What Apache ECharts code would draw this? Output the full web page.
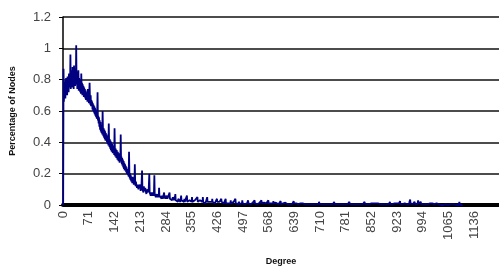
<!DOCTYPE html>
<html>
<head>
<meta charset="utf-8">
<script src="https://cdn.jsdelivr.net/npm/echarts@6/dist/echarts.min.js"></script>
<style>
  html, body { margin: 0; padding: 0; background: #fff; }
  #chart { width: 499px; height: 271px; }
</style>
</head>
<body>
<div id="chart"></div>
<script>
// degree axis: one category per degree, labelled every 71
var degreeCount = 1205;
var degrees = [];
for (var d = 0; d < degreeCount; d++) degrees.push(String(d));
var labelStep = 71;

// y axis ticks
var yMin = 0, yMax = 1.2, yStep = 0.2;

// percentage of nodes per degree
var pctNodes = [
  0,0.87,0.66,0.74,0.70,0.79,0.68,0.76,0.81,0.71,0.78,0.70,0.82,0.73,0.77,0.72,0.84,0.75,0.80,0.76,
  0.96,0.74,0.86,0.78,0.83,0.75,0.88,0.79,0.85,0.74,0.89,0.78,0.84,0.76,0.87,0.80,1.02,0.77,0.85,0.74,
  0.83,0.76,0.86,0.73,0.81,0.75,0.79,0.72,0.80,0.71,0.84,0.74,0.78,0.70,0.77,0.72,0.76,0.69,0.75,0.71,
  0.74,0.68,0.73,0.67,0.72,0.69,0.71,0.66,0.74,0.67,0.70,0.65,0.72,0.78,0.68,0.64,0.70,0.63,0.67,0.64,
  0.66,0.61,0.65,0.60,0.64,0.59,0.63,0.58,0.62,0.57,0.61,0.56,0.60,0.55,0.59,0.72,0.54,0.57,0.52,0.56,
  0.50,0.54,0.48,0.53,0.47,0.51,0.46,0.50,0.45,0.60,0.47,0.44,0.49,0.43,0.48,0.42,0.47,0.41,0.46,0.42,
  0.45,0.40,0.44,0.39,0.43,0.38,0.52,0.40,0.37,0.42,0.36,0.41,0.35,0.40,0.34,0.39,0.36,0.33,0.38,0.35,
  0.37,0.32,0.49,0.34,0.31,0.36,0.33,0.30,0.35,0.32,0.29,0.34,0.31,0.28,0.33,0.30,0.27,0.32,0.29,0.45,
  0.28,0.31,0.26,0.30,0.25,0.29,0.24,0.28,0.23,0.27,0.22,0.26,0.23,0.25,0.21,0.24,0.20,0.23,0.22,0.19,
  0.22,0.18,0.34,0.21,0.17,0.20,0.16,0.19,0.15,0.18,0.17,0.14,0.18,0.15,0.17,0.13,0.16,0.14,0.26,0.15,
  0.12,0.15,0.13,0.14,0.11,0.13,0.12,0.14,0.10,0.13,0.11,0.12,0.10,0.13,0.09,0.12,0.10,0.11,0.22,0.10,
  0.09,0.11,0.08,0.12,0.09,0.10,0.08,0.11,0.09,0.10,0.07,0.10,0.08,0.09,0.07,0.10,0.08,0.09,0.20,0.08,
  0.07,0.09,0.06,0.08,0.07,0.09,0.06,0.08,0.07,0.08,0.06,0.09,0.19,0.07,0.06,0.08,0.05,0.07,0.06,0.08,
  0.05,0.07,0.06,0.07,0.05,0.11,0.06,0.07,0.05,0.06,0.05,0.07,0.04,0.06,0.05,0.06,0.04,0.06,0.05,0.08,
  0.04,0.06,0.05,0.06,0.04,0.05,0.04,0.06,0.04,0.05,0.03,0.05,0.04,0.05,0.08,0.04,0.05,0.03,0.05,0.04,
  0.05,0.03,0.04,0.05,0.03,0.04,0.03,0.05,0.03,0.04,0.07,0.03,0.04,0.03,0.04,0.03,0.04,0.02,0.04,0.03,
  0.04,0.03,0.03,0.04,0.02,0.03,0.06,0.03,0.02,0.04,0.03,0.02,0.03,0.03,0.02,0.04,0.02,0.03,0.02,0.03,
  0.02,0.03,0.06,0.02,0.03,0.02,0.03,0.02,0.02,0.03,0.02,0.03,0.02,0.02,0.03,0.02,0.05,0.02,0.03,0.02,
  0.02,0.03,0.02,0.02,0.03,0.02,0.02,0.02,0.03,0.02,0.02,0.05,0.02,0.02,0.03,0.02,0.02,0.02,0.03,0.02,
  0.02,0.02,0.03,0.02,0.02,0.02,0.05,0.02,0.02,0.02,0.03,0.02,0.02,0.01,0.02,0.02,0.02,0.02,0.05,0.02,
  0.02,0.01,0.02,0.02,0.01,0.02,0.02,0.01,0.02,0.02,0.01,0.02,0.04,0.02,0.01,0.02,0.02,0.01,0.02,0.01,
  0.02,0.02,0.01,0.02,0.01,0.04,0.02,0.01,0.02,0.01,0.02,0.01,0.02,0.01,0.02,0.01,0.01,0.04,0.02,0.01,
  0.02,0.01,0.01,0.02,0.01,0.01,0.02,0.01,0.01,0.04,0.01,0.02,0.01,0.01,0.01,0.02,0.01,0.01,0.01,0.02,
  0.01,0.01,0.01,0.03,0.01,0.01,0.02,0.01,0.01,0.01,0.01,0.02,0.01,0.01,0.01,0.01,0.04,0.01,0.01,0.01,
  .01,.015,.01,.005,.01,.01,.02,.01,.005,.01,.015,.01,.01,.005,.01,.03,.01,.01,.005,.01,
  .01,.015,.005,.01,.01,.01,.005,.015,.01,.01,.01,.03,.01,.005,.01,.01,.015,.01,.005,.01,
  .01,.01,.005,.01,.015,.01,.01,.005,.01,.03,.01,.01,.005,.01,.01,.015,.005,.01,.01,.01,
  .005,.01,.01,.015,.01,.005,.01,.01,.03,.01,.005,.01,.01,.01,.005,.015,.01,.01,.005,.01,
  .01,.01,.005,.01,.015,.01,.005,.03,.01,.01,.005,.01,.01,.005,.01,.01,.015,.005,.01,.01,
  .01,.025,.01,.005,.01,.01,.005,.01,.015,.005,.01,.01,.005,.01,.01,.005,.01,.015,.005,.01,
  .01,.025,.005,.01,.01,.005,.01,.005,.01,.01,.005,.01,.005,.01,.015,.005,.01,.005,.01,.01,
  .005,.01,.005,.01,.005,.01,.01,.005,.01,.005,.01,.005,.01,.005,.01,.01,.005,.025,.01,.005,
  .01,.005,.01,.005,.01,.005,.01,.01,.005,.01,.005,.01,.015,.005,.01,.005,.01,.005,.01,.005,
  .01,.005,.01,.005,.02,.01,.005,.01,.005,.01,.005,.01,.005,.01,.01,.005,.01,.005,.01,.005,
  .01,.005,.01,.005,.01,.005,.01,.01,.005,.01,.005,.01,.005,.015,.005,.01,.005,.01,.005,.01,
  .005,.01,.005,.01,.005,.01,.005,.02,.01,.005,.01,.005,.01,.005,.01,.005,.01,.005,.01,.005,
  .01,.005,.01,.005,.01,.005,.015,.005,.01,.005,.01,.005,.01,.005,.01,.005,.01,.005,.01,.005,
  .01,.005,.01,.005,.01,.005,.01,.005,.01,.02,.005,.01,.005,.01,.005,.01,.005,.01,.005,.01,
  .005,.01,.005,.01,.005,.01,.005,.01,.005,.015,.005,.01,.005,.01,.005,.01,.005,.01,.005,.01,
  .005,.01,.005,.01,.005,.01,.005,.01,.005,.01,.005,.02,.005,.01,.005,.01,.005,.01,.005,.01,
  .005,.01,.005,.01,.005,.01,.005,.015,.005,.01,.005,.01,.005,.01,.005,.01,.005,.01,.005,.01,
  .005,.01,.005,.01,.005,.01,.005,.01,.005,.01,.005,.01,.005,.02,.005,.01,.005,.01,.005,.01,
  .005,.01,.005,.01,.005,.01,.005,.01,.005,.01,.015,.005,.01,.005,.01,.005,.01,.005,.01,.005,
  .01,.005,.01,.005,.01,.005,.01,.005,.01,.005,.01,.005,.01,.005,.01,.02,.005,.01,.005,.01,
  .005,.01,.005,.01,.005,.01,.005,.01,.005,.01,.005,.01,.005,.01,.005,.01,.005,.01,.005,.01,
  .005,.01,.005,.02,.005,.01,.005,.01,.005,.01,.005,.01,.005,.01,.015,.005,.01,.005,.01,.005,
  .01,.005,.01,.005,.01,.005,.01,.005,.01,.005,.01,.025,.005,.01,.005,.01,.005,.01,.005,.01,
  .01,.005,.015,.005,.01,.005,.01,.015,.005,.01,.005,.01,.015,.005,.01,.01,.005,.02,.01,.035,
  .01,.015,.005,.01,.02,.01,.005,.01,.015,.01,.005,.02,.01,.005,.01,.01,.005,.01,.015,.005,
  .01,.03,.01,.005,.01,.015,.005,.01,.02,.01,.005,.01,.005,.01,.005,.015,.005,.01,.005,.01,
  .005,.01,.005,.01,.005,.01,.005,.01,.005,.01,.005,.01,.005,.005,.01,.005,.005,.01,.005,.005,
  .01,.005,.005,.01,.005,.005,.005,.01,.005,.005,.005,.005,.01,.005,.005,.005,.005,.02,.005,.005,
  .005,.005,.005,.005,0,.005,.005,.005,0,.005,.005,0,.005,.005,0,.005,0,.005,.005,0,
  .005,0,.005,0,.005,0,0,.005,0,.005,0,0,.005,0,0,.005,0,0,.005,0,
  0,.005,0,0,.005,0,0,0,.005,0,0,0,0,0,0,.02,0,0,0,0,
  0,.005,0,0,0,0
];

var myChart = echarts.init(document.getElementById('chart'));

var option = {
  animation: false,
  textStyle: { fontFamily: 'Liberation Sans, Arial, sans-serif' },
  grid: {
    left: 61,
    right: 0,
    top: 17,
    bottom: 61,
    containLabel: false
  },
  xAxis: {
    type: 'category',
    data: degrees,
    boundaryGap: true,
    name: 'Degree',
    nameLocation: 'middle',
    nameGap: 52,
    nameTextStyle: { fontSize: 9, fontWeight: 'bold', color: '#111' },
    axisLine: { lineStyle: { color: '#000', width: 4 } },
    axisTick: { show: false },
    axisLabel: {
      interval: labelStep - 1,
      rotate: 90,
      margin: 6,
      fontSize: 13,
      color: '#444'
    },
    splitLine: { show: false }
  },
  yAxis: {
    type: 'value',
    min: yMin,
    max: yMax,
    interval: yStep,
    name: 'Percentage of Nodes',
    nameLocation: 'middle',
    nameGap: 46,
    nameTextStyle: { fontSize: 9, fontWeight: 'bold', color: '#111' },
    axisLine: { show: true, lineStyle: { color: '#000', width: 1.5 } },
    axisTick: { show: true, length: 4, lineStyle: { color: '#000' } },
    axisLabel: { margin: 12, fontSize: 13, color: '#444' },
    splitLine: { lineStyle: { color: '#111', width: 1.5 } }
  },
  series: [
    {
      type: 'line',
      data: pctNodes,
      showSymbol: false,
      lineStyle: { color: '#000080', width: 1.8 },
      itemStyle: { color: '#000080' }
    }
  ]
};

myChart.setOption(option, true);
</script>
</body>
</html>
